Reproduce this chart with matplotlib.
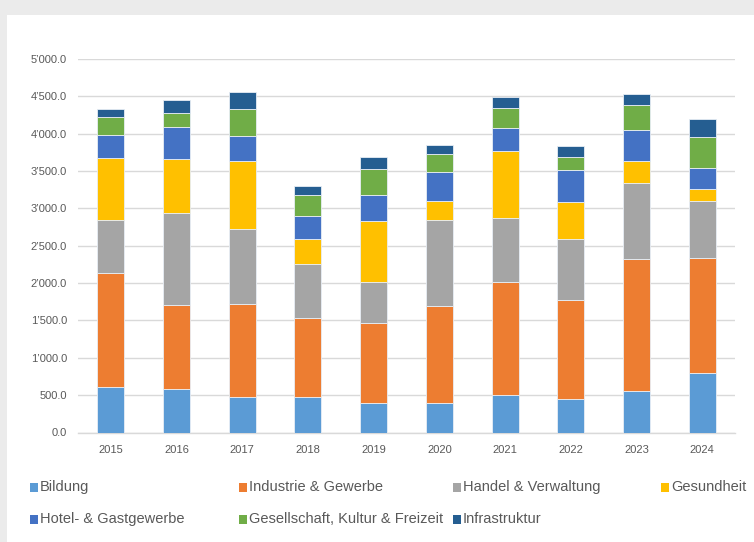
import numpy as np
import matplotlib
matplotlib.use("Agg")
import matplotlib.pyplot as plt
from matplotlib.patches import Rectangle
from matplotlib.ticker import FuncFormatter

plt.rcParams['font.family'] = ['Liberation Sans Narrow', 'Liberation Sans', 'DejaVu Sans']

years = ['2015', '2016', '2017', '2018', '2019', '2020', '2021', '2022', '2023', '2024']

categories = ['Bildung', 'Industrie & Gewerbe', 'Handel & Verwaltung', 'Gesundheit',
              'Hotel- & Gastgewerbe', 'Gesellschaft, Kultur & Freizeit', 'Infrastruktur']
colors = ['#5B9BD5', '#ED7D31', '#A5A5A5', '#FFC000', '#4472C4', '#70AD47', '#255E91']

bildung      = [610, 580, 470, 470, 390, 390, 500, 445, 555, 800]
industrie    = [1520, 1125, 1250, 1060, 1080, 1305, 1520, 1335, 1765, 1540]
handel       = [710, 1230, 1000, 730, 550, 1145, 845, 815, 1025, 765]
gesundheit   = [830, 720, 915, 325, 810, 265, 900, 490, 285, 155]
hotel        = [315, 430, 335, 315, 350, 380, 315, 430, 425, 280]
gesellschaft = [245, 195, 365, 280, 345, 245, 265, 170, 330, 415]
infra        = [95, 165, 225, 115, 160, 125, 150, 145, 145, 240]

series = [bildung, industrie, handel, gesundheit, hotel, gesellschaft, infra]

fig = plt.figure(figsize=(7.54, 5.42), dpi=100)
fig.patch.set_facecolor('#EBEBEB')
# white chart panel
fig.patches.append(Rectangle((7 / 754, 0), 1, 1 - 15 / 542, transform=fig.transFigure,
                             facecolor='white', edgecolor='none', zorder=-10))

ax = fig.add_axes([78 / 754, 1 - 432.5 / 542, 657 / 754, 373.5 / 542])
ax.set_facecolor('none')

x = np.arange(len(years))
bottom = np.zeros(len(years))
for vals, col, lab in zip(series, colors, categories):
    ax.bar(x, vals, 0.41, bottom=bottom, color=col, edgecolor='#e8eef5', linewidth=0.6,
           label=lab, zorder=3)
    bottom += np.array(vals)

ax.set_xlim(-0.5, len(years) - 0.5)
ax.set_ylim(0, 5000)
ax.set_yticks(np.arange(0, 5001, 500))
ax.yaxis.set_major_formatter(FuncFormatter(lambda v, p: f"{v:,.1f}".replace(',', '\u2019')))
ax.set_xticks(x)
ax.set_xticklabels(years)
ax.grid(axis='y', color='#D9D9D9', linewidth=1.0, zorder=0)
for s in ['top', 'right', 'left']:
    ax.spines[s].set_visible(False)
ax.spines['bottom'].set_color('#D9D9D9')
ax.spines['bottom'].set_linewidth(1.0)
ax.tick_params(axis='both', length=0, labelsize=8, labelcolor='#595959')
ax.tick_params(axis='y', pad=8)
ax.tick_params(axis='x', pad=9)

# legend, two rows as in the original
leg_x = [30, 239, 453, 661, 30, 239, 453]
leg_y = [487, 487, 487, 487, 519, 519, 519]
for lab, col, lx, ly in zip(categories, colors, leg_x, leg_y):
    fig.patches.append(Rectangle((lx / 754, 1 - (ly + 4.5) / 542), 8 / 754, 9 / 542,
                                 transform=fig.transFigure, facecolor=col, edgecolor='none'))
    fig.text((lx + 10) / 754, 1 - ly / 542, lab, fontsize=10.5, color='#595959',
             va='center', ha='left')

fig.savefig('out.png', dpi=100, facecolor=fig.get_facecolor())
